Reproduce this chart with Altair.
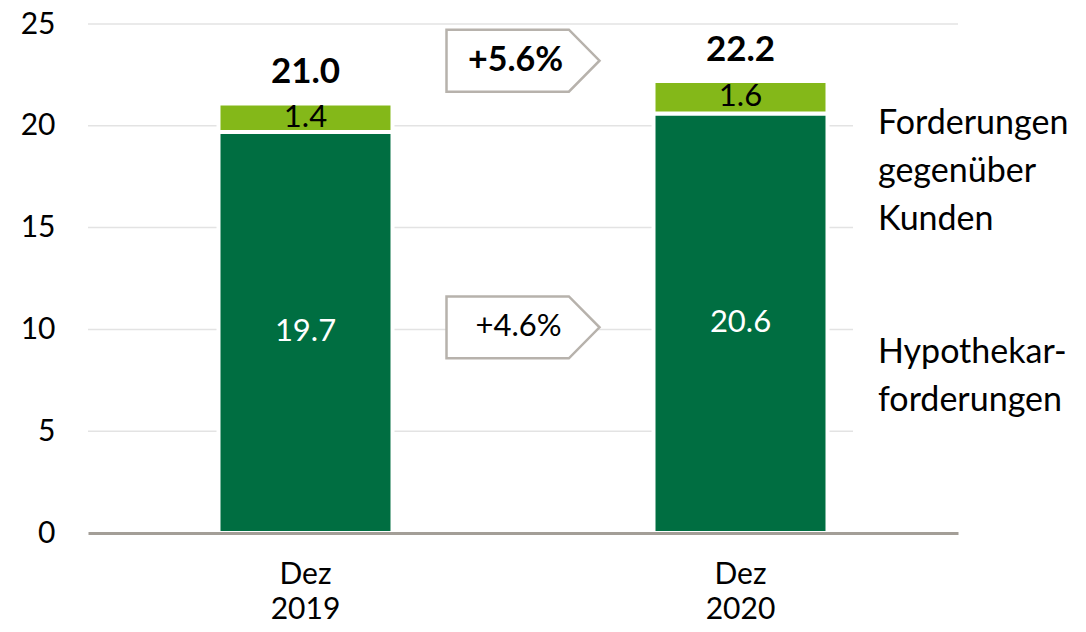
import altair as alt
import pandas as pd

# ---- data ----
periods = ["Dez 2019", "Dez 2020"]
hypothekar = [19.7, 20.6]
forderungen_kunden = [1.4, 1.6]
totals = [21.0, 22.2]
series_names = ["Hypothekarforderungen", "Forderungen gegenüber Kunden"]
growth_labels = ["+5.6%", "+4.6%"]
growth_weights = ["bold", "normal"]
growth_y = [23.2, 10.1]
y_ticks = [0, 5, 10, 15, 20, 25]
grid_short = [5, 10, 15, 20]
grid_full = [25]
legend_lines = [["Forderungen", "gegenüber", "Kunden"], ["Hypothekar-", "forderungen"]]
legend_y = [19.62, 8.37]

DARK = "#006E41"
LIGHT = "#84B819"
FONT = "Lato"

rows = []
for p, h, f, t in zip(periods, hypothekar, forderungen_kunden, totals):
    rows.append(dict(period=p, series=series_names[0], y0=0.0, y1=h, mid=h / 2, txt=f"{h:.1f}"))
    rows.append(dict(period=p, series=series_names[1], y0=h, y1=h + f, mid=h + f / 2, txt=f"{f:.1f}"))
bars_df = pd.DataFrame(rows)

tot_df = pd.DataFrame({"period": periods,
                       "top": [h + f for h, f in zip(hypothekar, forderungen_kunden)],
                       "txt": [f"{t:.1f}" for t in totals]})

growth_df = pd.DataFrame({"period": [periods[0]] * 2, "y": growth_y,
                          "txt": growth_labels, "w": growth_weights})

legend_df = pd.DataFrame({"period": [periods[1]] * 2, "y": legend_y, "lines": legend_lines})

grid_df = pd.DataFrame({"v": grid_short})
grid_top_df = pd.DataFrame({"v": grid_full})

y_scale = alt.Scale(domain=[0, 25], nice=False, zero=True)
y_axis = alt.Axis(title=None, values=y_ticks, grid=False, domain=False, ticks=False,
                  labelFont=FONT, labelFontSize=30, labelColor="black", labelPadding=33)
x_axis = alt.Axis(title=None, labelAngle=0, labelExpr="split(datum.label, ' ')",
                  labelFont=FONT, labelFontSize=30, labelLineHeight=35,
                  labelColor="black", labelBaseline="top", labelPadding=26,
                  ticks=False, grid=False, domain=True, domainColor="#A39E97",
                  domainWidth=3, zindex=1)
x_scale = alt.Scale(domain=periods, paddingInner=0.6, paddingOuter=0.3)


def X():
    return alt.X("period:N", sort=periods, scale=x_scale, axis=x_axis)


def Y(field):
    return alt.Y(field, scale=y_scale, axis=y_axis)


grid = alt.Chart(grid_df).mark_rule(color="#E3E3E3", strokeWidth=1.5).encode(
    y=Y("v:Q"), x=alt.value(0), x2=alt.value(765))
grid_top = alt.Chart(grid_top_df).mark_rule(color="#E3E3E3", strokeWidth=1.5).encode(
    y=Y("v:Q"), x=alt.value(0), x2=alt.value(870))

bars = alt.Chart(bars_df).mark_bar(stroke="white", strokeWidth=4).encode(
    x=X(), y=Y("y0:Q"), y2="y1:Q",
    color=alt.Color("series:N", scale=alt.Scale(domain=series_names, range=[DARK, LIGHT]),
                    legend=None))

seg_dark = alt.Chart(bars_df).transform_filter(
    alt.datum.series == series_names[0]).mark_text(
    font=FONT, fontSize=31, color="white", baseline="middle").encode(
    x=X(), y=Y("mid:Q"), text="txt:N")
seg_light = alt.Chart(bars_df).transform_filter(
    alt.datum.series == series_names[1]).mark_text(
    font=FONT, fontSize=31, color="black", baseline="middle").encode(
    x=X(), y=Y("mid:Q"), text="txt:N")

tot_text = alt.Chart(tot_df).mark_text(
    font=FONT, fontSize=35, fontWeight="bold", color="black",
    baseline="alphabetic", dy=-20).encode(
    x=X(), y=Y("top:Q"), text="txt:N")

ARROW = "M-1,-0.405 L0.6,-0.405 L1,0 L0.6,0.405 L-1,0.405 Z"
arrows = alt.Chart(growth_df).mark_point(
    shape=ARROW, size=23409, filled=True, fill="white", stroke="#B7B2AC",
    strokeWidth=2.5, opacity=1, fillOpacity=1, strokeOpacity=1, xOffset=217.5).encode(
    x=X(), y=Y("y:Q"))

g_bold = alt.Chart(growth_df).transform_filter(alt.datum.w == "bold").mark_text(
    font=FONT, fontSize=34, fontWeight="bold", color="black", baseline="middle",
    dx=210).encode(x=X(), y=Y("y:Q"), text="txt:N")
g_norm = alt.Chart(growth_df).transform_filter(alt.datum.w == "normal").mark_text(
    font=FONT, fontSize=31, color="black", baseline="middle", dx=213).encode(
    x=X(), y=Y("y:Q"), text="txt:N")

legend_text = alt.Chart(legend_df).mark_text(
    font=FONT, fontSize=34, color="black", align="left", baseline="alphabetic",
    lineHeight=48, dx=137.5).encode(x=X(), y=Y("y:Q"), text="lines")

chart = alt.layer(grid, grid_top, bars, seg_dark, seg_light, tot_text,
                  arrows, g_bold, g_norm, legend_text).properties(
    width=870, height=509,
    background="white",
    autosize=alt.AutoSizeParams(type="none"),
    padding={"left": 80, "top": 16, "right": 120, "bottom": 91},
).configure_view(stroke=None, strokeWidth=0).configure_axis(grid=False)

chart.save("out.html", embed_options={"renderer": "svg", "actions": False})
